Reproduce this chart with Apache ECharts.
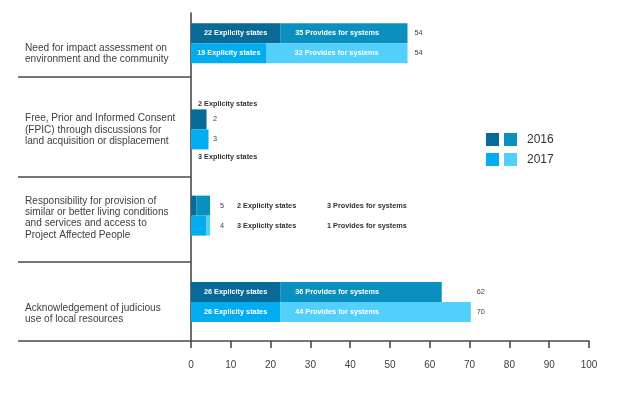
<!DOCTYPE html>
<html><head><meta charset="utf-8">
<script src="https://cdn.jsdelivr.net/npm/echarts@6/dist/echarts.min.js"></script>
<style>html,body{margin:0;padding:0;background:#fff}#c{width:620px;height:393px}</style>
</head><body><div id="c"></div>
<script>
// ---------- data ----------
const categories = [
  'Need for impact assessment on\nenvironment and the community',
  'Free, Prior and Informed Consent\n(FPIC) through discussions for\nland acquisition or displacement',
  'Responsibility for provision of\nsimilar or better living conditions\nand services and access to\nProject Affected People',
  'Acknowledgement of judicious\nuse of local resources'
];
const years = ['2016', '2017'];
// bar lengths as drawn
const explicit2016 = [22.4, 3.9, 1.4, 22.4];
const provides2016 = [32.0, 0, 3.4, 40.6];
const explicit2017 = [19.0, 4.4, 3.9, 22.4];
const provides2017 = [35.4, 0, 0.9, 47.9];
// numbers printed on the chart
const explicitText2016 = [22, 2, 2, 26];
const providesText2016 = [35, null, 3, 36];
const totalText2016 = [54, 2, 5, 62];
const explicitText2017 = [19, 3, 3, 26];
const providesText2017 = [32, null, 1, 44];
const totalText2017 = [54, 3, 4, 70];
const xTickValues = [0, 10, 20, 30, 40, 50, 60, 70, 80, 90, 100];

// ---------- style / layout ----------
const FONT = '"Liberation Sans", Arial, sans-serif';
const AXIS = '#4a4a4a';
const INK = '#333333';
const COLORS = {
  exp2016: '#086a96', prov2016: '#0a90bf',
  exp2017: '#01adef', prov2017: '#52cffa'
};
const sepTicks = [64, 164, 249, 328];     // frame axis positions of separators
const labelPos = [41, 117, 205, 301];     // frame axis positions of category texts
const providesDx = [[15, 15], [15, 15], [15, 15], [15, 15]];
providesDx[0][1] = 28;
const totalDist = [[7, 7], [6.6, 4.6], [10, 10], [35, 6]];

const bold = {fontFamily: FONT, fontSize: 7.3, fontWeight: 'bold'};

function explicitItems(vals, texts, provTexts, y) {
  return vals.map((v, i) => {
    const t = texts[i] + ' Explicity states';
    let label;
    if (i === 0 || i === 3) {
      label = Object.assign({show: true, position: 'inside', formatter: t, color: '#fff'}, bold);
    } else if (i === 1) {
      label = Object.assign({show: true, position: y === 0 ? [7, -5] : [7, 28],
        align: 'left', verticalAlign: 'middle', formatter: t, color: INK}, bold);
    } else {
      label = Object.assign({show: true, position: [46, '50%'], align: 'left', verticalAlign: 'middle',
        formatter: '{a|' + t + '}{b|' + provTexts[i] + ' Provides for systems}', color: INK,
        rich: {a: Object.assign({width: 90, color: INK}, bold), b: Object.assign({color: INK}, bold)}}, bold);
    }
    return {value: v, label: label};
  });
}
function providesItems(vals, texts, y) {
  return vals.map((v, i) => {
    if (i === 0 || i === 3) {
      return {value: v, label: Object.assign({show: true, position: [providesDx[i][y], '50%'],
        align: 'left', verticalAlign: 'middle', formatter: texts[i] + ' Provides for systems', color: '#fff'}, bold)};
    }
    return {value: v, label: {show: false}};
  });
}
function totalItems(texts, y) {
  return texts.map((t, i) => ({
    value: 0,
    label: {show: true, position: 'right', distance: totalDist[i][y], formatter: String(t),
      color: '#404040', fontSize: 7.3, fontFamily: FONT}
  }));
}

const names = {
  exp2016: 'Explicity states 2016', prov2016: 'Provides for systems 2016',
  exp2017: 'Explicity states 2017', prov2017: 'Provides for systems 2017'
};
const barBase = {type: 'bar', xAxisIndex: 0, yAxisIndex: 0, barWidth: 20, barGap: '0%'};

const series = [
  Object.assign({}, barBase, {name: names.exp2016, stack: 's2016', itemStyle: {color: COLORS.exp2016},
    data: explicitItems(explicit2016, explicitText2016, providesText2016, 0)}),
  Object.assign({}, barBase, {name: names.prov2016, stack: 's2016', itemStyle: {color: COLORS.prov2016},
    data: providesItems(provides2016, providesText2016, 0)}),
  Object.assign({}, barBase, {name: 'total2016', stack: 's2016', itemStyle: {color: 'transparent'},
    data: totalItems(totalText2016, 0)}),
  Object.assign({}, barBase, {name: names.exp2017, stack: 's2017', itemStyle: {color: COLORS.exp2017},
    data: explicitItems(explicit2017, explicitText2017, providesText2017, 1)}),
  Object.assign({}, barBase, {name: names.prov2017, stack: 's2017', itemStyle: {color: COLORS.prov2017},
    data: providesItems(provides2017, providesText2017, 1)}),
  Object.assign({}, barBase, {name: 'total2017', stack: 's2017', itemStyle: {color: 'transparent'},
    data: totalItems(totalText2017, 1)})
];

const legendBase = {
  orient: 'horizontal', left: 486, itemWidth: 13, itemHeight: 13, itemGap: 5, icon: 'rect',
  selectedMode: false, padding: 0,
  formatter: n => n.indexOf('Provides') === 0 ? n.slice(-4) : '',
  textStyle: {fontSize: 12, color: INK, fontFamily: FONT, padding: [0, 0, 0, 5]}
};

const chart = echarts.init(document.getElementById('c'), null, {renderer: 'canvas'});
chart.setOption({
  animation: false,
  backgroundColor: '#fff',
  textStyle: {fontFamily: FONT},
  grid: [
    {left: 191, right: 31, top: 0, height: 345},
    {left: 191, right: 31, top: 13, bottom: 52}
  ],
  legend: [
    Object.assign({}, legendBase, {top: 133, data: [names.exp2016, names.prov2016]}),
    Object.assign({}, legendBase, {top: 153, data: [names.exp2017, names.prov2017]})
  ],
  xAxis: [
    {gridIndex: 0, type: 'value', min: 0, max: 100, show: false},
    {gridIndex: 1, type: 'value', min: 0, max: 100, interval: 10,
      axisLine: {show: true, onZero: false, lineStyle: {color: AXIS, width: 1.6}},
      axisTick: {show: true, length: 7, lineStyle: {color: AXIS, width: 1.6}},
      axisLabel: {margin: 19, color: '#404040', fontSize: 10, fontFamily: FONT,
        formatter: v => String(xTickValues[xTickValues.indexOf(v)])},
      splitLine: {show: false}}
  ],
  yAxis: [
    {gridIndex: 0, type: 'category', data: categories, inverse: true, show: false},
    {gridIndex: 1, type: 'value', min: 0, max: 328, inverse: true,
      axisLine: {show: true, onZero: false, lineStyle: {color: AXIS, width: 1.6}},
      axisTick: {show: true, customValues: sepTicks, length: 173, lineStyle: {color: AXIS, width: 1.6}},
      axisLabel: {show: true, customValues: labelPos, align: 'left', margin: 166,
        color: '#404040', fontSize: 10.1, lineHeight: 11.4, fontFamily: FONT,
        formatter: v => categories[labelPos.indexOf(v)] || ''},
      splitLine: {show: false}}
  ],
  series: series
});
</script></body></html>
